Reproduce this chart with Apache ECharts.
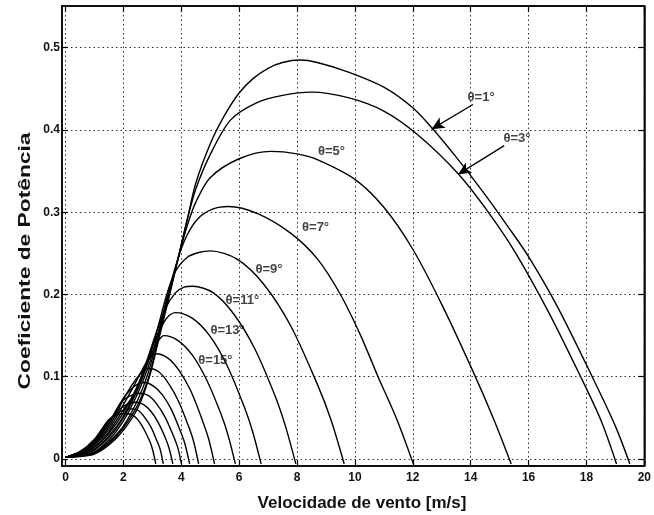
<!DOCTYPE html>
<html>
<head>
<meta charset="utf-8">
<script src="https://cdn.jsdelivr.net/npm/echarts@6/dist/echarts.min.js"></script>
<style>
  html, body { margin: 0; padding: 0; background: #fff; }
  #chart { width: 654px; height: 515px; }
</style>
</head>
<body>
<div id="chart"></div>
<script>
// Tick positions
const xTicks = [0, 2, 4, 6, 8, 10, 12, 14, 16, 18, 20];
const yTicks = [0, 0.1, 0.2, 0.3, 0.4, 0.5];

// Power coefficient curves, one per pitch angle: [wind speed (m/s), Cp]
const cpTheta1 = [[0,.002],[.5,.003],[1,.006],[1.5,.017],[2,.035],[2.5,.062],[2.9,.1],[3.2,.142],[3.6,.2],[3.9,.245],[4.2,.29],[4.5,.335],[5,.383],[5.5,.418],[6,.445],[6.5,.463],[7,.475],[7.5,.482],[8.1,.485],[8.7,.482],[9.8,.47],[11,.452],[12,.427],[12.65,.403],[13.5,.367],[14.4,.326],[15.3,.282],[16,.246],[17,.185],[18.2,.1],[19,.04],[19.5,-.006]];
const cpTheta3 = [[0,.002],[.5,.0035],[1,.007],[1.5,.019],[2,.038],[2.5,.066],[2.88,.1],[3.2,.145],[3.58,.2],[3.9,.245],[4.2,.29],[4.5,.328],[5,.37],[5.7,.412],[6.6,.433],[7.5,.442],[8.5,.446],[9.8,.439],[11,.423],[12.14,.395],[13.56,.347],[14.65,.298],[15.56,.25],[16.7,.178],[17.8,.1],[18.5,.047],[19.04,-.006]];
const cpTheta5 = [[0,.002],[.5,.004],[1,.008],[1.5,.021],[2,.04],[2.5,.072],[2.86,.105],[3.18,.147],[3.56,.2],[3.9,.245],[4.2,.283],[4.5,.312],[5,.342],[6,.365],[7.1,.374],[8,.371],[8.7,.364],[10,.34],[11,.306],[12,.255],[13,.188],[14.1,.105],[14.8,.048],[15.4,-.006]];
const cpTheta7 = [[0,.002],[.5,.0045],[1,.009],[1.5,.023],[2,.046],[2.5,.08],[2.84,.11],[3.16,.148],[3.54,.2],[3.88,.243],[4.2,.272],[4.6,.293],[5.1,.304],[5.63,.307],[6.66,.298],[7.8,.274],[8.71,.243],[9.5,.2],[10.2,.15],[10.8,.1],[11.45,.048],[12.02,-.006]];
const cpTheta9 = [[0,.002],[.5,.005],[1,.011],[1.5,.026],[2,.05],[2.5,.085],[2.8,.112],[3.12,.15],[3.5,.2],[3.8,.228],[4.2,.245],[4.6,.251],[5,.253],[5.93,.243],[6.85,.2125],[7.78,.162],[8.7,.091],[9.17,.048],[9.63,-.006]];
const cpTheta11 = [[0,.002],[.5,.0055],[1,.012],[1.5,.028],[2,.052],[2.5,.088],[2.8,.118],[3.1,.15],[3.45,.183],[3.8,.202],[4.1,.209],[4.4,.21],[5.11,.202],[5.82,.176],[6.54,.134],[7.25,.076],[7.6,.04],[7.96,-.006]];
const cpTheta13 = [[0,.002],[.5,.006],[1,.014],[1.5,.031],[2,.056],[2.5,.09],[2.8,.118],[3.1,.145],[3.4,.166],[3.6,.175],[3.8,.178],[4.39,.171],[4.98,.15],[5.58,.114],[6.17,.064],[6.46,.034],[6.76,-.006]];
const cpTheta15 = [[0,.002],[.5,.0065],[1,.015],[1.5,.033],[2,.06],[2.4,.08],[2.68,.103],[2.95,.127],[3.2,.143],[3.4,.15],[3.89,.144],[4.39,.126],[4.88,.096],[5.38,.054],[5.62,.0285],[5.87,-.006]];
const cpTheta17 = [[0,.002],[.5,.007],[1,.017],[1.5,.036],[2,.066],[2.35,.088],[2.6,.105],[2.85,.12],[3.12,.128],[3.53,.123],[3.93,.1075],[4.34,.082],[4.74,.046],[4.95,.024],[5.15,-.006]];
const cpTheta19 = [[0,.002],[.5,.0075],[1,.018],[1.5,.039],[2,.072],[2.3,.09],[2.6,.104],[2.87,.11],[3.22,.106],[3.56,.092],[3.91,.07],[4.25,.04],[4.43,.021],[4.6,-.006]];
const cpTheta21 = [[0,.002],[.5,.008],[1,.019],[1.5,.042],[2,.074],[2.3,.086],[2.5,.091],[2.72,.093],[3.03,.089],[3.35,.078],[3.66,.06],[3.98,.033],[4.13,.018],[4.29,-.006]];
const cpTheta23 = [[0,.002],[.5,.0085],[1,.02],[1.5,.044],[1.9,.068],[2.2,.076],[2.58,.08],[2.87,.077],[3.15,.067],[3.44,.051],[3.72,.029],[3.87,.015],[4.01,-.006]];
const cpTheta25 = [[0,.002],[.5,.0088],[1,.021],[1.5,.046],[1.85,.06],[2.15,.067],[2.45,.069],[2.7,.066],[2.95,.058],[3.21,.044],[3.46,.025],[3.58,.013],[3.71,-.006]];
const cpTheta27 = [[0,.002],[.5,.009],[1,.022],[1.5,.047],[1.8,.056],[2.05,.06],[2.3,.061],[2.52,.059],[2.73,.051],[2.95,.039],[3.16,.022],[3.27,.012],[3.38,-.006]];
const cpTheta29 = [[0,.002],[.5,.009],[1,.024],[1.5,.048],[1.75,.053],[1.95,.055],[2.15,.055],[2.34,.053],[2.54,.046],[2.73,.035],[2.93,.02],[3.02,.01],[3.12,-.006]];

const pitchAngles = [1, 3, 5, 7, 9, 11, 13, 15, 17, 19, 21, 23, 25, 27, 29];
const cpCurves = [cpTheta1, cpTheta3, cpTheta5, cpTheta7, cpTheta9, cpTheta11, cpTheta13, cpTheta15,
                  cpTheta17, cpTheta19, cpTheta21, cpTheta23, cpTheta25, cpTheta27, cpTheta29];

// Curve annotations: [x, y, text]
const angleLabels = [
  [14.36, 0.439, 'θ=1°'],
  [15.6, 0.390, 'θ=3°'],
  [9.19, 0.3745, 'θ=5°'],
  [8.64, 0.281, 'θ=7°'],
  [7.03, 0.230, 'θ=9°'],
  [6.11, 0.193, 'θ=11°'],
  [5.6, 0.156, 'θ=13°'],
  [5.18, 0.120, 'θ=15°']
];
// Leader arrows from label to curve: [from, to]
const arrowLines = [
  [[14.08, 0.431], [12.65, 0.401]],
  [[15.16, 0.381], [13.56, 0.346]]
];

const FONT = '"Liberation Sans", Arial, Helvetica, sans-serif';
const X_MIN = -0.12, X_MAX = 20, Y_MIN = -0.0085, Y_MAX = 0.5507;

const chart = echarts.init(document.getElementById('chart'), null, { renderer: 'canvas' });

const gridLine = { show: true, lineStyle: { color: '#333', width: 1, type: [1.5, 3] } };
const frameLine = { show: true, onZero: false, lineStyle: { color: '#000', width: 1.5 } };

const series = cpCurves.map((pts, i) => ({
  name: 'θ=' + pitchAngles[i] + '°',
  type: 'line',
  data: pts,
  showSymbol: false,
  smooth: 0.3,
  lineStyle: { color: '#000', width: 1.4 },
  z: 3,
  silent: true
}));

series.push({
  type: 'scatter',
  data: angleLabels,
  symbolSize: 0,
  silent: true,
  z: 5,
  label: {
    show: true,
    position: 'inside',
    formatter: p => p.value[2],
    color: '#111',
    fontSize: 13,
    fontWeight: 'bold',
    fontFamily: FONT
  },
  markLine: {
    silent: true,
    animation: false,
    symbol: ['none', 'arrow'],
    symbolSize: [9, 13],
    label: { show: false },
    lineStyle: { color: '#000', width: 1.3, type: 'solid' },
    data: arrowLines.map(([a, b]) => [{ coord: a }, { coord: b }])
  }
});

chart.setOption({
  animation: false,
  backgroundColor: '#fff',
  grid: { left: 62, right: 3, top: 6, bottom: 49, show: true, borderColor: '#000', borderWidth: 1.5 },
  xAxis: [{
    type: 'value', min: X_MIN, max: X_MAX,
    axisLine: frameLine,
    axisTick: { show: true, inside: true, length: 6, customValues: xTicks, lineStyle: { color: '#000', width: 1.2 } },
    axisLabel: { customValues: xTicks, color: '#111', fontSize: 12, fontWeight: 'bold', fontFamily: FONT, margin: 6 },
    splitLine: gridLine
  }, {
    type: 'value', position: 'top', min: X_MIN, max: X_MAX,
    axisLine: frameLine,
    axisTick: { show: true, inside: true, length: 6, customValues: xTicks, lineStyle: { color: '#000', width: 1.2 } },
    axisLabel: { show: false },
    splitLine: { show: false }
  }],
  yAxis: [{
    type: 'value', min: Y_MIN, max: Y_MAX,
    axisLine: frameLine,
    axisTick: { show: true, inside: true, length: 6, customValues: yTicks, lineStyle: { color: '#000', width: 1.2 } },
    axisLabel: { customValues: yTicks, color: '#111', fontSize: 12, fontWeight: 'bold', fontFamily: FONT, margin: 2 },
    splitLine: gridLine
  }, {
    type: 'value', position: 'right', min: Y_MIN, max: Y_MAX,
    axisLine: frameLine,
    axisTick: { show: true, inside: true, length: 6, customValues: yTicks, lineStyle: { color: '#000', width: 1.2 } },
    axisLabel: { show: false },
    splitLine: { show: false }
  }],
  graphic: [{
    type: 'text',
    x: 362, y: 503,
    style: { text: 'Velocidade de vento [m/s]', fill: '#111', font: 'bold 17px ' + FONT, textAlign: 'center', textVerticalAlign: 'middle' }
  }, {
    type: 'text',
    x: 25, y: 261,
    rotation: Math.PI / 2,
    scaleX: 1.34,
    style: { text: 'Coeficiente de Potência', fill: '#111', font: 'bold 17px ' + FONT, textAlign: 'center', textVerticalAlign: 'middle' }
  }],
  series: series
});
</script>
</body>
</html>
